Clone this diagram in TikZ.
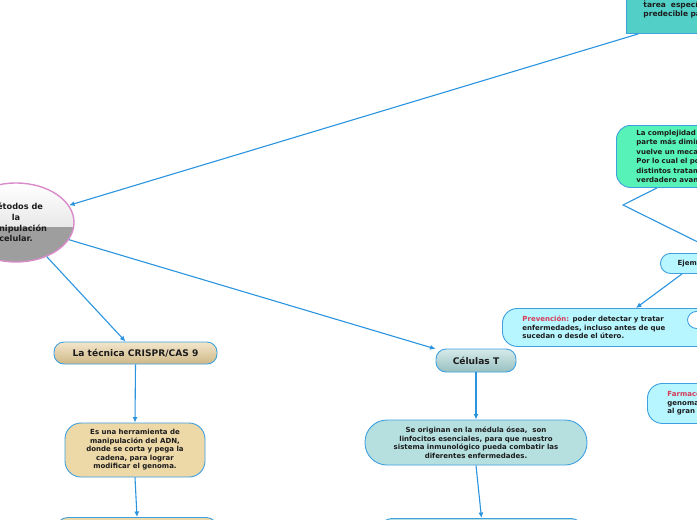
\documentclass[tikz,border=0pt]{standalone}
\usepackage{fontspec}
\setmainfont{DejaVu Sans}
\usepackage{xcolor}
\usetikzlibrary{arrows.meta, shapes.geometric}

\definecolor{linkblue}{HTML}{2A94DE}
\definecolor{edgeblue}{HTML}{3FA0E0}
\definecolor{rootpink}{HTML}{D98CC9}
\definecolor{ink}{HTML}{1C1C1C}
\definecolor{alert}{HTML}{D63A55}
\definecolor{tealbox}{HTML}{52D0C8}
\definecolor{mint}{HTML}{57F2B7}
\definecolor{cyanbox}{HTML}{B7F5FF}
\definecolor{tanlight}{HTML}{F2E6CB}
\definecolor{tandark}{HTML}{CFB888}
\definecolor{tanflat}{HTML}{EDD8A8}
\definecolor{cellight}{HTML}{D6EAEA}
\definecolor{celdark}{HTML}{98C0C0}
\definecolor{celflat}{HTML}{B6DFE0}

\begin{document}
\begin{tikzpicture}[x=1pt, y=-1pt,
		conn/.style={draw=linkblue, line width=1.1pt, -{Latex[length=5.5pt,width=5pt]}},
		link/.style={draw=linkblue, line width=1.1pt},
		box/.style={draw=edgeblue, line width=0.9pt, rounded corners=#1, inner sep=0pt, text=ink},
		box/.default=10pt,
		head/.style={font=\bfseries\fontsize{9.1}{11}\selectfont},
		memo/.style={font=\bfseries\fontsize{7}{8.5}\selectfont}]
			% Page and frame:
			\useasboundingbox (0,0) rectangle (697,520);
			\clip (0,0) rectangle (697,520);
			\fill[white] (0,0) rectangle (697,520);
			% Central idea:
			\node[ellipse, draw=rootpink, line width=1.4pt, minimum width=116pt, minimum height=79pt, inner sep=0pt, align=center, text=ink, font=\bfseries\fontsize{8.2}{10.7}\selectfont,
				path picture={
					\fill[top color=white, bottom color=black!16] (path picture bounding box.north west) rectangle ([yshift=-4pt]path picture bounding box.east);
					\fill[black!38] ([yshift=-4pt]path picture bounding box.west) rectangle (path picture bounding box.south east);
				}](root) at (16,222.5){Métodos de\\la\\manipulación\\celular.};
			% Right side nodes:
			\node[draw=edgeblue, line width=0.9pt, fill=tealbox, text=ink, anchor=south west, minimum width=160pt, minimum height=56pt, text width=126pt, inner xsep=17pt, inner ysep=0pt, align=left, font=\bfseries\fontsize{7.5}{8.6}\selectfont](goal) at (626,34){permite realizar una\\tarea~ específica y\\predecible para};
			\node[box=14pt, fill=mint, anchor=north west, minimum width=170pt, minimum height=62pt, text width=130pt, inner xsep=20pt, align=left, font=\bfseries\fontsize{7}{9.4}\selectfont](vida) at (616,125){La complejidad de la vida\\parte más diminuta, se\\vuelve un mecanismo\\Por lo cual el poder usar\\distintos tratamientos es\\verdadero avance.};
			\node[box=10pt, fill=cyanbox, anchor=north west, minimum width=70pt, minimum height=20pt, memo](ejem) at (660,253){Ejemplos};
			\node[box=15pt, fill=cyanbox, anchor=north west, minimum width=280pt, minimum height=38pt, text width=240pt, inner xsep=20pt, align=left, memo](prev) at (502,308){\textcolor{alert}{Prevención:} poder detectar y tratar\\enfermedades, incluso antes de que\\sucedan o desde el útero.};
			\node[box=9pt, fill=white, anchor=north west, minimum width=60pt, minimum height=17pt](extra) at (687,311){};
			\node[box=15pt, fill=cyanbox, anchor=north west, minimum width=200pt, minimum height=40pt, text width=160pt, inner xsep=20pt, align=left, memo](farm) at (647,383){\textcolor{alert}{Farmacogenómica:} según el\\genoma de cada persona,\\al gran avance.};
			% Left branch:
			\node[box=10pt, top color=tanlight, bottom color=tandark, minimum width=163pt, minimum height=22pt, head](crispr) at (135.5,353){La técnica CRISPR/CAS 9};
			\node[box=16pt, fill=tanflat, minimum width=140pt, minimum height=54pt, align=center, memo](crisprdef) at (135,450){Es una herramienta de\\manipulación del ADN,\\donde se corta y pega la\\cadena, para lograr\\modificar el genoma.};
			\node[box=12pt, fill=tanflat, anchor=north, minimum width=162pt, minimum height=40pt](crisprnext) at (137,517){};
			% Middle branch:
			\node[box=10pt, top color=cellight, bottom color=celdark, minimum width=80pt, minimum height=23pt, head](cel) at (476,360.5){Células T};
			\node[box=22pt, fill=celflat, minimum width=222pt, minimum height=45pt, align=center, memo](celdef) at (476,442.5){Se originan en la médula ósea,~ son\\linfocitos esenciales, para que nuestro\\sistema inmunológico pueda combatir las\\diferentes enfermedades.};
			\node[box=12pt, fill=celflat, anchor=north, minimum width=203pt, minimum height=40pt](celnext) at (481.5,518){};
			% Connectors:
			\draw[conn] ([xshift=12pt]goal.south west) -- (root.18);
			\draw[conn] (root.-48) -- ([xshift=-10pt]crispr.north);
			\draw[conn] (root.-18) -- (cel.164);
			\draw[conn] (crispr.south) -- (crisprdef.north);
			\draw[conn] (crisprdef.south) -- (crisprnext.north);
			\draw[conn] (cel.south) -- (celdef.north);
			\draw[conn] (celdef.south) -- (celnext.north);
			\draw[conn] ([xshift=22pt]ejem.south west) -- ([xshift=134pt]prev.north west);
			\coordinate (bend) at (623,205);
			\draw[link] ([xshift=41pt]vida.south west) -- (bend) -- ([xshift=60pt]ejem.north west);
		\end{tikzpicture}
\end{document}
